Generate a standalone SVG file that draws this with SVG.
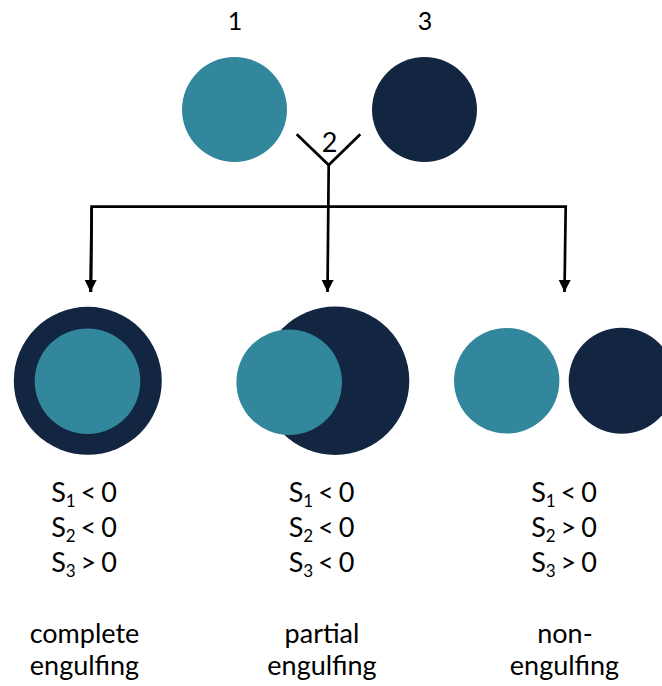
<svg xmlns="http://www.w3.org/2000/svg" width="662" height="686" viewBox="0 0 662 686">
  <style>
    .teal { fill: #32879C; }
    .navy { fill: #132641; }
    .lbl { font-family: "Lato", "Liberation Sans", sans-serif; font-size: 27px; fill: #000; text-anchor: middle; }
    .num { font-size: 25px; }
    .eq { word-spacing: -2px; }
    .sub { font-size: 17px; }
    .wire { fill: none; stroke: #000; stroke-width: 2.7; }
  </style>
  <defs>
    <marker id="arrow" markerUnits="userSpaceOnUse" markerWidth="13" markerHeight="13" refX="12" refY="6" orient="auto">
      <path d="M0,0 L12,6 L0,12 Z" fill="#000"/>
    </marker>
  </defs>
  <rect width="662" height="686" fill="#fff"/>

  <!-- starting phases -->
  <g id="phase1">
    <circle class="teal" cx="234.5" cy="109.5" r="52.5"/>
    <text class="lbl num" x="235" y="30">1</text>
  </g>
  <g id="phase3">
    <circle class="navy" cx="424.5" cy="109.5" r="52.5"/>
    <text class="lbl num" x="425" y="30">3</text>
  </g>
  <g id="phase2">
    <text class="lbl" x="329.5" y="152">2</text>
  </g>

  <!-- branching connectors -->
  <g id="connectors">
    <polyline class="wire" points="296.7,134.3 328.7,165 360.3,134.3"/>
    <line class="wire" x1="328.7" y1="165" x2="327.5" y2="292" marker-end="url(#arrow)"/>
    <polyline class="wire" points="91,292 91.7,206.7 565.7,206.7 564.5,292" marker-end="url(#arrow)"/>
    <line class="wire" x1="91.7" y1="206.7" x2="90.5" y2="292" marker-end="url(#arrow)"/>
  </g>

  <!-- complete engulfing -->
  <g id="complete">
    <circle class="navy" cx="87.8" cy="380.8" r="74"/>
    <circle class="teal" cx="87.5" cy="381.2" r="52.8"/>
    <text class="lbl eq" x="84" y="502">S<tspan class="sub" dy="4.5">1</tspan><tspan dy="-4.5"> &lt; 0</tspan></text>
    <text class="lbl eq" x="84" y="537">S<tspan class="sub" dy="4.5">2</tspan><tspan dy="-4.5"> &lt; 0</tspan></text>
    <text class="lbl eq" x="84" y="572">S<tspan class="sub" dy="4.5">3</tspan><tspan dy="-4.5"> &gt; 0</tspan></text>
    <text class="lbl" x="84.5" y="643">complete</text>
    <text class="lbl" x="84.5" y="675">engulfing</text>
  </g>

  <!-- partial engulfing -->
  <g id="partial">
    <circle class="navy" cx="335.1" cy="380.8" r="74.2"/>
    <circle class="teal" cx="289.2" cy="382.2" r="52.8"/>
    <text class="lbl eq" x="321.5" y="502">S<tspan class="sub" dy="4.5">1</tspan><tspan dy="-4.5"> &lt; 0</tspan></text>
    <text class="lbl eq" x="321.5" y="537">S<tspan class="sub" dy="4.5">2</tspan><tspan dy="-4.5"> &lt; 0</tspan></text>
    <text class="lbl eq" x="321.5" y="572">S<tspan class="sub" dy="4.5">3</tspan><tspan dy="-4.5"> &lt; 0</tspan></text>
    <text class="lbl" x="322" y="643">partial</text>
    <text class="lbl" x="322" y="675">engulfing</text>
  </g>

  <!-- non-engulfing -->
  <g id="nonengulfing">
    <circle class="teal" cx="506.7" cy="380.8" r="52.7"/>
    <circle class="navy" cx="621.7" cy="380.8" r="53"/>
    <text class="lbl eq" x="564" y="502">S<tspan class="sub" dy="4.5">1</tspan><tspan dy="-4.5"> &lt; 0</tspan></text>
    <text class="lbl eq" x="564" y="537">S<tspan class="sub" dy="4.5">2</tspan><tspan dy="-4.5"> &gt; 0</tspan></text>
    <text class="lbl eq" x="564" y="572">S<tspan class="sub" dy="4.5">3</tspan><tspan dy="-4.5"> &gt; 0</tspan></text>
    <text class="lbl" x="565" y="643">non-</text>
    <text class="lbl" x="564.5" y="675">engulfing</text>
  </g>
</svg>
